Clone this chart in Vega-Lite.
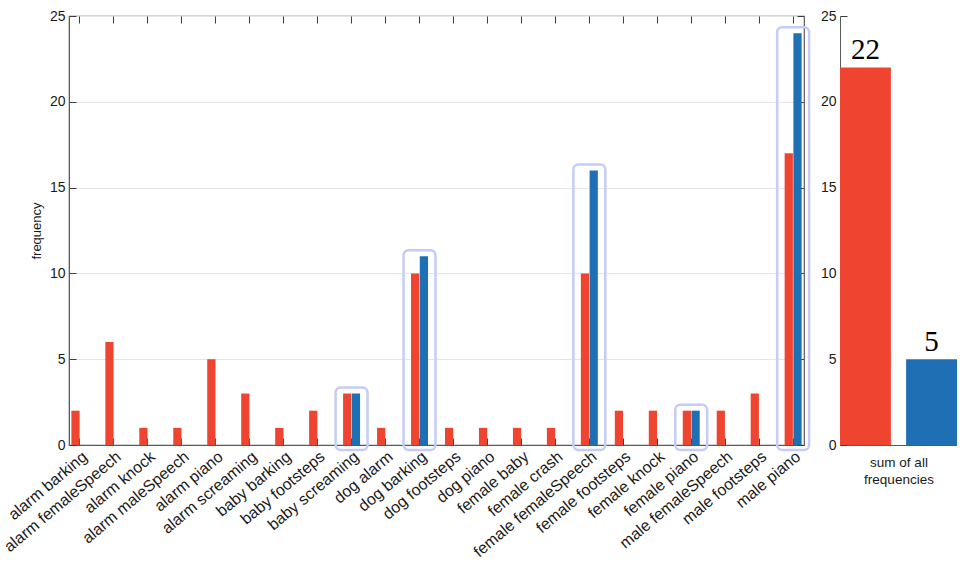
{
  "$schema": "https://vega.github.io/schema/vega-lite/v6.json",
  "padding": {"left": 0, "top": 8, "right": 0, "bottom": 0},
  "background": "white",
  "config": {
    "font": "Liberation Sans",
    "view": {"stroke": "#5a5a5a", "strokeWidth": 1.2},
    "axis": {
      "domainColor": "#5a5a5a",
      "tickColor": "#3c3c3c",
      "labelColor": "#1a1a1a",
      "labelFontSize": 14,
      "titleFontSize": 13,
      "titleFontWeight": "normal",
      "titleColor": "#1a1a1a",
      "gridColor": "#e4e4e4"
    },
    "concat": {"spacing": 9}
  },
  "datasets": {
    "freq": [
      {"pair": "alarm barking", "series": "red", "frequency": 2},
      {"pair": "alarm femaleSpeech", "series": "red", "frequency": 6},
      {"pair": "alarm knock", "series": "red", "frequency": 1},
      {"pair": "alarm maleSpeech", "series": "red", "frequency": 1},
      {"pair": "alarm piano", "series": "red", "frequency": 5},
      {"pair": "alarm screaming", "series": "red", "frequency": 3},
      {"pair": "baby barking", "series": "red", "frequency": 1},
      {"pair": "baby footsteps", "series": "red", "frequency": 2},
      {"pair": "baby screaming", "series": "red", "frequency": 3},
      {"pair": "baby screaming", "series": "blue", "frequency": 3},
      {"pair": "dog alarm", "series": "red", "frequency": 1},
      {"pair": "dog barking", "series": "red", "frequency": 10},
      {"pair": "dog barking", "series": "blue", "frequency": 11},
      {"pair": "dog footsteps", "series": "red", "frequency": 1},
      {"pair": "dog piano", "series": "red", "frequency": 1},
      {"pair": "female baby", "series": "red", "frequency": 1},
      {"pair": "female crash", "series": "red", "frequency": 1},
      {"pair": "female femaleSpeech", "series": "red", "frequency": 10},
      {"pair": "female femaleSpeech", "series": "blue", "frequency": 16},
      {"pair": "female footsteps", "series": "red", "frequency": 2},
      {"pair": "female knock", "series": "red", "frequency": 2},
      {"pair": "female piano", "series": "red", "frequency": 2},
      {"pair": "female piano", "series": "blue", "frequency": 2},
      {"pair": "male femaleSpeech", "series": "red", "frequency": 2},
      {"pair": "male footsteps", "series": "red", "frequency": 3},
      {"pair": "male piano", "series": "red", "frequency": 17},
      {"pair": "male piano", "series": "blue", "frequency": 24}
    ],
    "sums": [
      {"series": "red", "total": 22},
      {"series": "blue", "total": 5}
    ]
  },
  "hconcat": [
    {
      "width": 735,
      "height": 429,
      "data": {"name": "freq"},
      "resolve": {"axis": {"x": "independent", "y": "independent"}},
      "layer": [
        {
          "transform": [
            {"aggregate": [{"op": "max", "field": "frequency", "as": "top"}, {"op": "count", "as": "n"}], "groupby": ["pair"]},
            {"filter": "datum.n > 1"}
          ],
          "mark": {"type": "bar", "fillOpacity": 0, "stroke": "#c4ccf7", "strokeWidth": 2.5, "cornerRadius": 5, "width": {"band": 1.88}, "yOffset": -6, "y2Offset": 5},
          "encoding": {
            "x": {
              "field": "pair", "type": "nominal",
              "scale": {"paddingInner": 0.5, "paddingOuter": 0.07},
              "axis": {"orient": "top", "labels": false, "title": null, "tickSize": -7, "domain": false}
            },
            "y": {
              "field": "top", "type": "quantitative",
              "scale": {"domain": [0, 25], "nice": false},
              "axis": {"orient": "right", "labels": false, "title": null, "tickSize": -7, "values": [0, 5, 10, 15, 20, 25], "domain": false, "grid": false}
            },
            "y2": {"datum": 0}
          }
        },
        {
          "mark": {"type": "bar"},
          "encoding": {
            "x": {
              "field": "pair", "type": "nominal",
              "axis": {"orient": "bottom", "title": null, "labelAngle": -40, "labelFontSize": 16, "tickSize": -7, "labelPadding": 10}
            },
            "xOffset": {"field": "series", "type": "nominal", "scale": {"domain": ["red", "blue"], "paddingInner": 0.06}},
            "y": {
              "field": "frequency", "type": "quantitative",
              "scale": {"domain": [0, 25], "nice": false},
              "axis": {"orient": "left", "title": "frequency", "values": [0, 5, 10, 15, 20, 25], "tickSize": -7, "labelPadding": 11, "titlePadding": 6, "grid": true}
            },
            "color": {"field": "series", "type": "nominal", "scale": {"domain": ["red", "blue"], "range": ["#ee4430", "#1f6fb5"]}, "legend": null}
          }
        }
      ]
    },
    {
      "width": 117,
      "height": 429,
      "data": {"name": "sums"},
      "view": {"stroke": null},
      "encoding": {
        "x": {
          "field": "series", "type": "nominal", "sort": ["red", "blue"],
          "scale": {"paddingInner": 0.23, "paddingOuter": 0},
          "axis": {"labels": false, "ticks": false, "title": ["sum of all", "frequencies"], "titlePadding": 10, "titleFontSize": 13.5, "titleLineHeight": 17}
        },
        "y": {
          "field": "total", "type": "quantitative",
          "scale": {"domain": [0, 25], "nice": false},
          "axis": {"values": [0, 5, 10, 15, 20, 25], "grid": false, "title": null, "tickSize": -7, "labelPadding": 11}
        }
      },
      "layer": [
        {
          "mark": {"type": "bar"},
          "encoding": {
            "color": {"field": "series", "type": "nominal", "scale": {"domain": ["red", "blue"], "range": ["#ee4430", "#1f6fb5"]}, "legend": null}
          }
        },
        {
          "mark": {"type": "text", "font": "Liberation Serif", "fontSize": 29, "baseline": "alphabetic", "dy": -8, "color": "black"},
          "encoding": {"text": {"field": "total", "type": "quantitative"}}
        }
      ]
    }
  ]
}
